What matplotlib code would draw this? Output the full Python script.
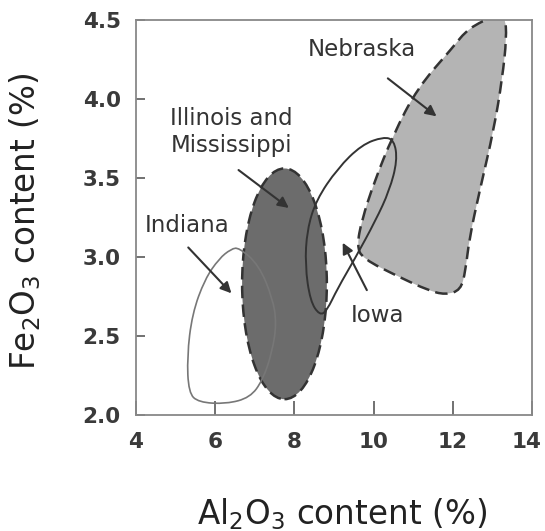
import numpy as np
import matplotlib
matplotlib.use("Agg")
from matplotlib import pyplot as plt
from matplotlib.path import Path
from matplotlib.patches import PathPatch, Ellipse
from matplotlib.transforms import ScaledTranslation

# outlines of the clay composition fields (Al2O3 %, Fe2O3 %)
nebraska_x = [13.10, 12.40, 11.98, 11.11, 10.49, 10.01, 9.70, 9.58, 9.72, 10.67, 11.37, 11.81, 12.20, 12.32,
              12.42, 12.68, 13.04, 13.25, 13.36, 13.32]
nebraska_y = [4.53, 4.45, 4.32, 4.07, 3.77, 3.47, 3.23, 3.07, 2.99, 2.87, 2.79, 2.76, 2.79, 2.91,
              3.12, 3.42, 3.81, 4.13, 4.39, 4.52]

iowa_x = [10.25, 10.52, 10.60, 10.40, 10.05, 9.53, 9.09, 8.82, 8.64, 8.40, 8.27, 8.32, 8.55, 9.09, 9.70]
iowa_y = [3.76, 3.74, 3.61, 3.42, 3.23, 2.99, 2.80, 2.66, 2.63, 2.72, 2.95, 3.17, 3.36, 3.56, 3.71]

indiana_x = [6.60, 7.10, 7.45, 7.55, 7.44, 7.20, 6.88, 6.28, 5.58, 5.33, 5.29, 5.42, 5.74, 6.10, 6.40]
indiana_y = [3.06, 2.95, 2.74, 2.58, 2.40, 2.22, 2.11, 2.07, 2.08, 2.14, 2.37, 2.64, 2.86, 2.99, 3.05]

# Illinois and Mississippi field is close to an upright ellipse
illinois_center = (7.75, 2.83)
illinois_size = (2.14, 1.46)

labels = ["Nebraska", "Illinois and\nMississippi", "Indiana", "Iowa"]
label_x = [9.70, 6.42, 5.29, 10.10]
label_y = [4.31, 3.79, 3.20, 2.63]
arrow_tail_x = [10.36, 6.59, 5.32, 9.83]
arrow_tail_y = [4.13, 3.55, 3.06, 2.79]
arrow_head_x = [11.59, 7.86, 6.41, 9.22]
arrow_head_y = [3.89, 3.31, 2.77, 3.09]

xticks = [4, 6, 8, 10, 12, 14]
yticks = [2.0, 2.5, 3.0, 3.5, 4.0, 4.5]


def smooth_outline(xs, ys):
    # closed curve of quadratic beziers through the midpoints of the outline
    pts = np.column_stack([xs, ys])
    mids = (pts + np.roll(pts, -1, axis=0)) / 2
    verts = [mids[-1]]
    codes = [Path.MOVETO]
    for p, m in zip(pts, mids):
        verts += [p, m]
        codes += [Path.CURVE3, Path.CURVE3]
    return Path(verts, codes)


fig = plt.figure(figsize=(5.45, 5.31), dpi=100)
ax = fig.add_axes([0.2495, 0.2185, 0.7266, 0.744])

dark = "#333333"

ax.add_patch(PathPatch(smooth_outline(nebraska_x, nebraska_y), facecolor="#b4b4b4", edgecolor="none", zorder=1))
ax.add_patch(Ellipse(illinois_center, *illinois_size, facecolor="#6c6c6c", edgecolor="none", zorder=1))

ax.add_patch(PathPatch(smooth_outline(nebraska_x, nebraska_y), facecolor="none", edgecolor=dark,
                       lw=1.8, linestyle=(0, (5, 2.5)), zorder=3))
ax.add_patch(Ellipse(illinois_center, *illinois_size, facecolor="none", edgecolor=dark,
                     lw=1.8, linestyle=(0, (5, 2.5)), zorder=3))
ax.add_patch(PathPatch(smooth_outline(iowa_x, iowa_y), facecolor="none", edgecolor=dark, lw=1.4, zorder=3))
ax.add_patch(PathPatch(smooth_outline(indiana_x, indiana_y), facecolor="none", edgecolor="#777777", lw=1.2, zorder=3))

for name, tx, ty in zip(labels, label_x, label_y):
    ax.text(tx, ty, name, ha="center", va="center", fontsize=16.5, color=dark, linespacing=1.25, zorder=4)

for x0, y0, x1, y1 in zip(arrow_tail_x, arrow_tail_y, arrow_head_x, arrow_head_y):
    ax.annotate("", xy=(x1, y1), xytext=(x0, y0),
                arrowprops=dict(arrowstyle="-|>", color=dark, lw=1.5, mutation_scale=16,
                                shrinkA=0, shrinkB=0), zorder=4)

ax.set_xlim(4, 14)
ax.set_ylim(2.0, 4.5)
ax.set_xticks(xticks)
ax.set_yticks(yticks)
ax.set_yticklabels([f"{v:.1f}" for v in yticks])

for s in ax.spines.values():
    s.set_color("#888888")
    s.set_linewidth(1.3)
ax.tick_params(axis="both", direction="in", color="#666666", width=1.3, labelsize=15.5,
               labelcolor="#3a3a3a")
ax.tick_params(axis="x", length=10, pad=12)
ax.tick_params(axis="y", length=6.5, pad=11)
for lab in ax.get_xticklabels() + ax.get_yticklabels():
    lab.set_fontweight("bold")

# keep the last x tick label inside the figure
last = ax.get_xticklabels()[-1]
last.set_transform(last.get_transform() + ScaledTranslation(-5 / 100, 0, fig.dpi_scale_trans))

ax.set_xlabel(r"Al$_2$O$_3$ content (%)", fontsize=23.5, color="#222222")
ax.set_ylabel(r"Fe$_2$O$_3$ content (%)", fontsize=23.5, color="#222222")
ax.xaxis.set_label_coords(0.52, -0.205)
ax.yaxis.set_label_coords(-0.235, 0.49)

fig.savefig("out.png", dpi=100)
